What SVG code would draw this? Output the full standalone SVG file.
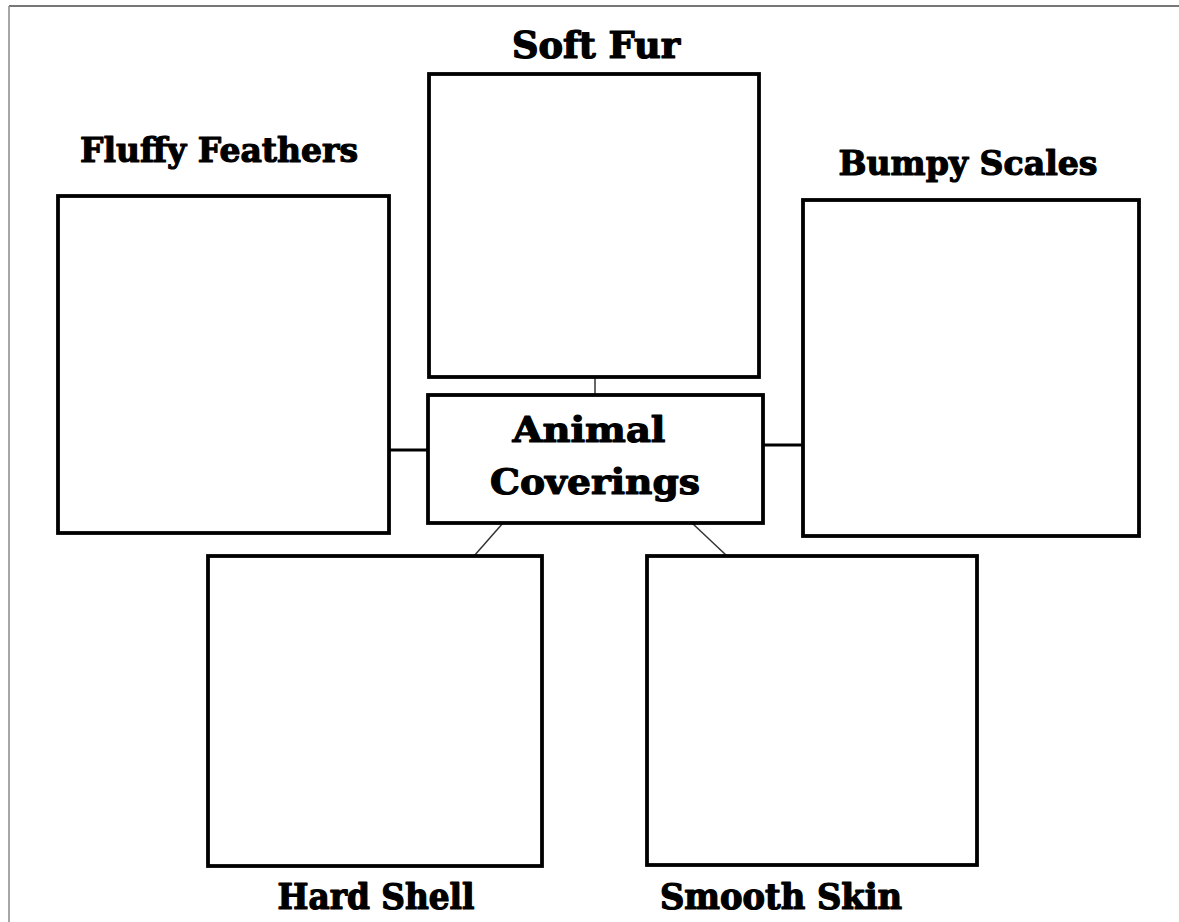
<svg xmlns="http://www.w3.org/2000/svg" width="1179" height="922" viewBox="0 0 1179 922">
<style>
.box{fill:#fff;stroke:#000;stroke-width:3.8}
.lbl{font-family:"DejaVu Serif","Liberation Serif",serif;font-weight:bold;fill:#000;stroke:#000;stroke-width:1.2;stroke-linejoin:round;text-anchor:middle}
.cond{font-family:"DejaVu Serif Condensed","DejaVu Serif",serif}
.thin{stroke:#333;stroke-width:1.5;fill:none}
.thick{stroke:#000;stroke-width:3;fill:none}
</style>
<rect width="1179" height="922" fill="#fff"/>
<g id="frame">
<line x1="9" y1="6" x2="1179" y2="6" stroke="#777" stroke-width="2"/>
<line x1="9" y1="6" x2="9" y2="922" stroke="#888" stroke-width="1.5"/>
</g>
<g id="connectors">
<line class="thin" x1="595" y1="377" x2="595" y2="395"/>
<line class="thick" x1="389" y1="450" x2="428" y2="450"/>
<line class="thick" x1="763" y1="445" x2="802" y2="445"/>
<line class="thin" x1="503" y1="523" x2="474" y2="556"/>
<line class="thin" x1="692" y1="523" x2="727" y2="556"/>
</g>
<g id="soft-fur">
<rect class="box" x="429" y="74" width="330" height="303"/>
<text class="lbl cond" x="596" y="58" font-size="37" textLength="168" lengthAdjust="spacingAndGlyphs">Soft Fur</text>
</g>
<g id="fluffy-feathers">
<rect class="box" x="58" y="196" width="331" height="337"/>
<text class="lbl" x="219" y="162" font-size="34" textLength="278" lengthAdjust="spacingAndGlyphs">Fluffy Feathers</text>
</g>
<g id="bumpy-scales">
<rect class="box" x="803" y="200" width="336" height="336"/>
<text class="lbl" x="968" y="175" font-size="34" textLength="259" lengthAdjust="spacingAndGlyphs">Bumpy Scales</text>
</g>
<g id="animal-coverings">
<rect class="box" x="428" y="395" width="335" height="128"/>
<text class="lbl" x="589" y="442" font-size="36" textLength="153" lengthAdjust="spacingAndGlyphs">Animal</text>
<text class="lbl" x="595" y="494" font-size="36" textLength="210" lengthAdjust="spacingAndGlyphs">Coverings</text>
</g>
<g id="hard-shell">
<rect class="box" x="208" y="556" width="334" height="310"/>
<text class="lbl cond" x="376" y="909" font-size="35" textLength="197" lengthAdjust="spacingAndGlyphs">Hard Shell</text>
</g>
<g id="smooth-skin">
<rect class="box" x="647" y="556" width="330" height="309"/>
<text class="lbl cond" x="781" y="909" font-size="35" textLength="242" lengthAdjust="spacingAndGlyphs">Smooth Skin</text>
</g>
</svg>
